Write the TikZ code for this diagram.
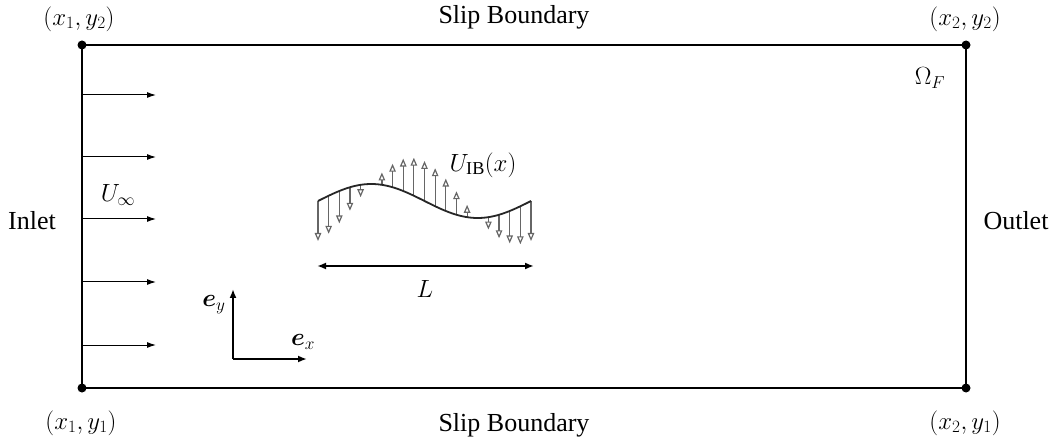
\documentclass[tikz,border=0pt]{standalone}
\usepackage{amsmath}
\usepackage{bm}
\usepackage{fontspec}
\setmainfont{Liberation Serif}
\usetikzlibrary{arrows.meta}
\begin{document}
\begin{tikzpicture}[x=1pt,y=-1pt,
  lbl/.style={font=\fontsize{26}{30}\selectfont, inner sep=0pt},
  frame/.style={line width=2pt},
  inflow/.style={line width=1pt,-{Latex[length=9pt,width=6pt]}},
  axis/.style={line width=2pt,-{Latex[length=9pt,width=7pt]}},
  vel/.style={draw=black!60,line width=1.2pt,-{Triangle[open,length=8pt,width=6.5pt]}},
  dot/.style={circle,fill=black,inner sep=0pt,minimum size=9pt}]
\useasboundingbox (0,0) rectangle (1054,443);
% frame corners
\node[dot] (c11) at (82,388) {};
\node[dot] (c21) at (966,388) {};
\node[dot] (c22) at (966,45) {};
\node[dot] (c12) at (82,45) {};
\draw[frame] (c11.center) -- (c21.center) -- (c22.center) -- (c12.center) -- cycle;
% labels
\node[lbl] (l12) at (79,19) {$(x_1,y_2)$};
\node[lbl] (l22) at (965,19) {$(x_2,y_2)$};
\node[lbl] (l11) at (81,423) {$(x_1,y_1)$};
\node[lbl] (l21) at (965,423) {$(x_2,y_1)$};
\node[lbl] (sbt) at (514,17) {Slip Boundary};
\node[lbl] (sbb) at (514,425) {Slip Boundary};
\node[lbl] (inl) at (32,221) {Inlet};
\node[lbl] (outl) at (1016,221) {Outlet};
\node[lbl] (om) at (930,78) {$\Omega_F$};
\node[lbl] (uinf) at (118,195) {$U_\infty$};
\node[lbl] (uib) at (483,165) {$U_{\mathrm{IB}}(x)$};
\node[lbl] (ll) at (425,289) {$L$};
\node[lbl] (ey) at (214,305) {$\bm{e}_y$};
\node[lbl] (ex) at (303,342) {$\bm{e}_x$};
% inflow arrows
\foreach \i/\yy in {1/95,2/157,3/219,4/282,5/345}{
  \coordinate (a\i) at (82,\yy);
  \coordinate (b\i) at (156,\yy);
  \draw[inflow] (a\i) -- (b\i);
}
% axes
\coordinate (o) at (233,359);
\coordinate (oy) at (233,289);
\coordinate (ox) at (307,359);
\draw[axis] (o) -- (oy);
\draw[axis] (o) -- (ox);
% velocity arrows
\foreach \k in {0,...,4,6,7,...,14,16,17,...,20}{
  \pgfmathsetmacro{\ph}{18*\k}
  \pgfmathsetmacro{\xx}{318+10.65*\k}
  \pgfmathsetmacro{\yb}{201-17*sin(\ph)}
  \pgfmathsetmacro{\yt}{\yb+40*cos(\ph)}
  \draw[vel] (\xx,\yb) -- (\xx,\yt);
}
% beam
\draw[line width=1.8pt,black!85] plot[domain=0:360,samples=80,smooth] ({318+0.59167*\x},{201-17*sin(\x)});
% length arrow
\coordinate (la) at (317,266);
\coordinate (lb) at (534,266);
\draw[line width=1.8pt,{Latex[length=9pt,width=7pt]}-{Latex[length=9pt,width=7pt]}] (la) -- (lb);
\end{tikzpicture}
\end{document}
